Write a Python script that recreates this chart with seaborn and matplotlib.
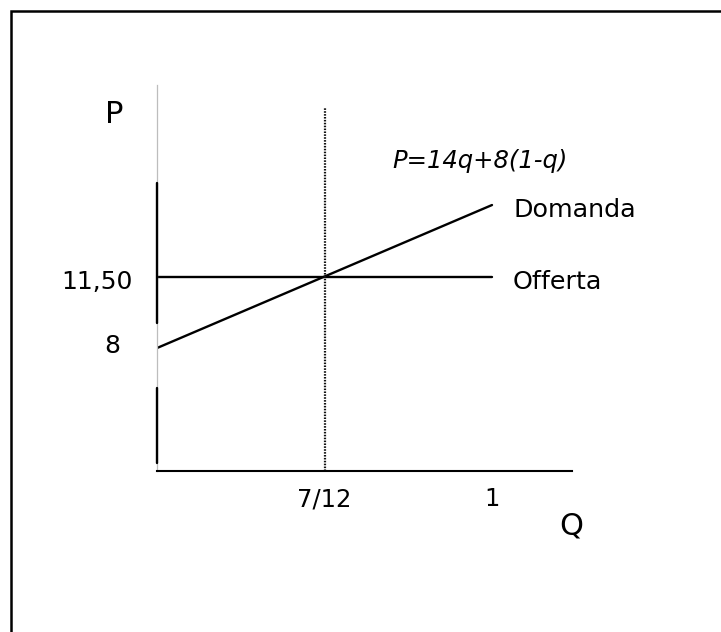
import numpy as np
import pandas as pd
import matplotlib
matplotlib.use("Agg")
import matplotlib.pyplot as plt
from matplotlib.patches import Rectangle
import seaborn as sns

# --- data -------------------------------------------------------------
q_values = [0.0, 1.0]            # quantity range of the two schedules
domanda_p = [8.0, 14.0]          # P = 14q + 8(1-q) at q = 0 and q = 1
offerta_p = [11.5, 11.5]         # flat offer price
q_star = 7 / 12                  # equilibrium quantity
p_star = 11.5                    # equilibrium price
x_ticks = [7 / 12, 1.0]
x_tick_labels = ["7/12", "1"]
y_ticks = [8.0, 11.5]
y_tick_labels = ["8", "11,50"]
formula = "P=14q+8(1-q)"

# --- schematic (piecewise-linear) scales -------------------------------
def piecewise(k_in, k_out):
    k_in = np.asarray(k_in, float)
    k_out = np.asarray(k_out, float)
    s_lo = (k_out[1] - k_out[0]) / (k_in[1] - k_in[0])
    s_hi = (k_out[-1] - k_out[-2]) / (k_in[-1] - k_in[-2])

    def f(v):
        v = np.asarray(v, float)
        out = np.interp(v, k_in, k_out)
        out = np.where(v < k_in[0], k_out[0] + (v - k_in[0]) * s_lo, out)
        out = np.where(v > k_in[-1], k_out[-1] + (v - k_in[-1]) * s_hi, out)
        return out
    return f

x_knots = [0.0, q_star, 1.0]
y_knots = [8.0, p_star, 14.0]
unit = [0.0, 0.5, 1.0]

sns.set_theme(style="white")
plt.rcParams["font.family"] = ["DejaVu Sans"]
plt.rcParams["text.color"] = "black"
plt.rcParams["xtick.color"] = "black"
plt.rcParams["xtick.labelcolor"] = "black"

W, H = 721, 632
fig = plt.figure(figsize=(W / 100, H / 100), dpi=100)
fig.patch.set_facecolor("white")

# outer frame
fig.add_artist(Rectangle((10.5 / W, -0.2), 2.0, (H - 10.5) / H + 0.2,
                         transform=fig.transFigure, fill=False,
                         lw=1.8, ec="black"))

ax = fig.add_axes([157 / W, 1 - 470.6 / H, (572.4 - 157) / W, (470.6 - 84.9) / H])
ax.set_facecolor("white")
ax.set_xscale("function", functions=(piecewise(x_knots, unit), piecewise(unit, x_knots)))
ax.set_yscale("function", functions=(piecewise(y_knots, unit), piecewise(unit, y_knots)))
ax.set_xlim(0, 1.2)
ax.set_ylim(2.0, 18.2)

df = pd.DataFrame({
    "q": q_values * 2,
    "P": domanda_p + offerta_p,
    "curva": ["Domanda"] * 2 + ["Offerta"] * 2,
})
sns.lineplot(data=df, x="q", y="P", units="curva", estimator=None,
             color="black", lw=1.7, ax=ax, legend=False)

# equilibrium quantity guide
ax.axvline(q_star, ymin=0, ymax=0.9427, color="#111111", lw=1.6,
           linestyle=(0, (0.7, 0.6)), clip_on=False)

# axes
for side in ["top", "right"]:
    ax.spines[side].set_visible(False)
ax.spines["bottom"].set_color("black")
ax.spines["bottom"].set_linewidth(1.5)
ax.spines["left"].set_color("#bdbdbd")
ax.spines["left"].set_linewidth(0.9)
ax.axvline(0, ymin=0.3827, ymax=0.7457, color="black", lw=1.7,
           clip_on=False, zorder=3)
ax.axvline(0, ymin=0.0197, ymax=0.2142, color="black", lw=1.7,
           clip_on=False, zorder=3)

ax.set_xticks(x_ticks)
ax.set_xticklabels(x_tick_labels, fontsize=17.5, color="black")
ax.tick_params(axis="x", length=0, pad=12, labelcolor="black")
ax.set_yticks([])
ax.set_xlabel("")
ax.set_ylabel("")
ax.grid(False)

ytrans = ax.get_yaxis_transform()
for val, lab, dx, dy in zip(y_ticks, y_tick_labels, [-37, -24], [-5, -12]):
    ax.annotate(lab, xy=(0, val), xycoords=ytrans, xytext=(dx, dy),
                textcoords="offset pixels", ha="right", va="baseline",
                fontsize=18, color="black")

# axis names
ax.text(-0.1035, 0.922, "P", transform=ax.transAxes, ha="center", va="center",
        fontsize=22, color="black")
ax.text(0.9966, -0.1436, "Q", transform=ax.transAxes, ha="center", va="center",
        fontsize=22, color="black")

# curve labels
ax.annotate("Domanda", xy=(q_values[-1], domanda_p[-1]), xytext=(21, -11.5),
            textcoords="offset pixels", ha="left", va="baseline",
            fontsize=18.3, color="black")
ax.annotate("Offerta", xy=(q_values[-1], offerta_p[-1]), xytext=(21, -12),
            textcoords="offset pixels", ha="left", va="baseline",
            fontsize=18.3, color="black")

ax.text(0.566, 0.7845, formula, transform=ax.transAxes, ha="left",
        va="baseline", fontsize=17.5, style="italic", color="black")

fig.savefig("out.png", dpi=100, facecolor="white")
